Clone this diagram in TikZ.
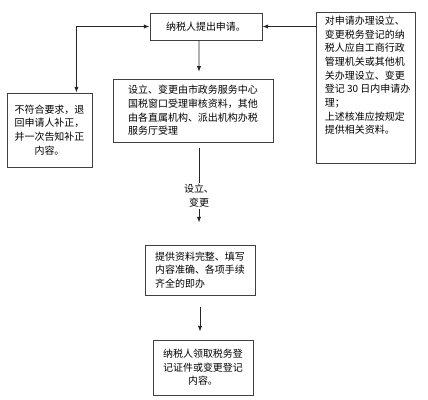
\documentclass[tikz,border=0pt]{standalone}
\usepackage{fontspec}
\newfontfamily\cjk{Noto Sans CJK SC}
\usetikzlibrary{positioning,arrows.meta}
\tikzset{
  box/.style={draw=black!75,line width=0.6pt,inner sep=2pt,
    font=\cjk\fontsize{7.1}{9.7}\selectfont},
  plain/.style={inner sep=1pt,font=\cjk\fontsize{7.1}{9.7}\selectfont},
  link/.style={draw=black!85,line width=0.6pt}
}

\begin{document}
\begin{tikzpicture}[x=0.025cm,y=-0.025cm,>={Latex[length=4pt,width=3pt]}]
  \useasboundingbox (0,0) rectangle (428,400);
  \node (apply) [box,minimum width=2.8cm,minimum height=0.675cm] at (206,26.5) {纳税人提出申请。};
  \node (note) [box,anchor=north west,minimum width=2.475cm,minimum height=3.775cm] at (316,12) {};
  \node (notetext) [plain,anchor=north west,align=left,below right=0.06cm and 0.18cm of note.north west] {对申请办理设立、\\变更税务登记的纳\\税人应自工商行政\\管理机关或其他机\\关办理设立、变更\\登记 30 日内申请办\\理；\\上述核准应按规定\\提供相关资料。};
  \node (reject) [box,align=center,minimum width=2.125cm,minimum height=1.85cm] at (49.5,130) {不符合要求，退\\回申请人补正，\\并一次告知补正\\内容。};
  \node (accept) [box,align=left,minimum width=4cm,minimum height=1.575cm] at (193,110.5) {设立、变更由市政务服务中心\\国税窗口受理审核资料，其他\\由各直属机构、派出机构办税\\服务厅受理};
  \node (cond) [plain,align=center] at (199,196) {设立、\\变更};
  \node (check) [box,align=left,minimum width=2.75cm,minimum height=1.25cm] at (200,270) {提供资料完整、填写\\内容准确、各项手续\\齐全的即办};
  \node (issue) [box,align=center,minimum width=2.5cm,minimum height=1.375cm] at (203,367.5) {纳税人领取税务登\\记证件或变更登记\\内容。};

  \draw[link,<->] ([xshift=-0.4cm]reject.north east) |- (apply.west);
  \draw[link,->] (apply.east -| note.west) -- (apply.east);
  \draw[link,->,shorten >=0.17cm] ([xshift=-0.175cm]apply.south) -- ([xshift=0.15cm]accept.north);
  \draw[link,shorten <=0.15cm] (cond.north |- accept.south) -- (cond.north);
  \draw[link,->,shorten >=0.55cm] (cond.south) -- (cond.south |- check.north);
  \draw[link,->,shorten <=0.3cm,shorten >=0.2cm] (check.south) -- (check.south |- issue.north);
\end{tikzpicture}
\end{document}
